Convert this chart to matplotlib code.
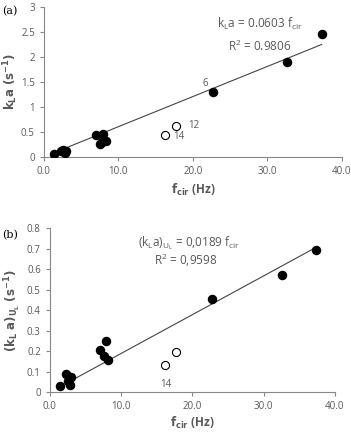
import matplotlib
matplotlib.use("Agg")
import matplotlib.pyplot as plt

# panel (a): kLa vs circulation frequency
fa_x = [1.4, 2.3, 2.6, 2.8, 3.0, 7.0, 7.5, 7.8, 8.0, 8.3, 22.7, 32.6, 37.3]
fa_y = [0.06, 0.12, 0.14, 0.08, 0.12, 0.44, 0.26, 0.29, 0.46, 0.31, 1.30, 1.89, 2.46]
oa_x = [16.2, 17.7]
oa_y = [0.43, 0.61]
slope_a = 0.0603
fit_a = [2.5, 37.3]

# panel (b): (kLa)_UL vs circulation frequency
fb_x = [1.4, 2.2, 2.5, 2.8, 3.0, 7.1, 7.6, 7.9, 8.2, 22.7, 32.6, 37.3]
fb_y = [0.03, 0.09, 0.055, 0.035, 0.075, 0.205, 0.175, 0.25, 0.155, 0.455, 0.57, 0.695]
ob_x = [16.2, 17.7]
ob_y = [0.135, 0.197]
slope_b = 0.0189
fit_b = [3.0, 37.3]

grey = "#595959"
plt.rcParams["font.family"] = "Open Sans"
plt.rcParams["mathtext.fontset"] = "dejavusans"

fig = plt.figure(figsize=(3.51, 4.32), dpi=100)
ax1 = fig.add_axes([0.125, 0.637, 0.849, 0.347])
ax2 = fig.add_axes([0.142, 0.092, 0.812, 0.380])

def style(ax):
    for s in ["top", "right"]:
        ax.spines[s].set_visible(False)
    for s in ["left", "bottom"]:
        ax.spines[s].set_color("#888888")
        ax.spines[s].set_linewidth(0.8)
    ax.tick_params(colors="#888888", labelcolor=grey, labelsize=7, length=3, width=0.8)
    ax.set_xlim(0, 40)
    ax.set_xticks([0, 10, 20, 30, 40])
    ax.set_xticklabels(["0.0", "10.0", "20.0", "30.0", "40.0"])

# (a)
ax1.plot(fit_a, [slope_a * v for v in fit_a], color="#444444", lw=0.8)
ax1.scatter(fa_x, fa_y, s=34, color="black", zorder=3)
ax1.scatter(oa_x, oa_y, s=34, facecolor="white", edgecolor="black", linewidth=0.8, zorder=3)
ax1.set_ylim(0, 3)
ax1.set_yticks([0, 0.5, 1, 1.5, 2, 2.5, 3])
ax1.set_yticklabels(["0", "0.5", "1", "1.5", "2", "2.5", "3"])
style(ax1)
ax1.set_xlabel(r"$\mathbf{f_{cir}}$ (Hz)", fontsize=8.5, fontweight="bold", color=grey, labelpad=4)
ax1.set_ylabel(r"$\mathbf{k_{L}a\ (s^{-1})}$", fontsize=8.5, color=grey, labelpad=1)
ax1.text(29.0, 2.65, r"k$_\mathregular{L}$a = 0.0603 f$_\mathregular{cir}$", fontsize=8.5, color=grey, ha="center", va="center")
ax1.text(29.0, 2.20, r"R$^\mathregular{2}$ = 0.9806", fontsize=8.5, color=grey, ha="center", va="center")
ax1.text(21.7, 1.47, "6", fontsize=7, color=grey, ha="center", va="center")
ax1.text(19.4, 0.63, "12", fontsize=7, color=grey, ha="left", va="center")
ax1.text(17.4, 0.40, "14", fontsize=7, color=grey, ha="left", va="center")
fig.text(0.005, 0.975, "(a)", fontsize=8, family="DejaVu Serif", va="center")

# (b)
ax2.plot(fit_b, [slope_b * v for v in fit_b], color="#444444", lw=0.8)
ax2.scatter(fb_x, fb_y, s=34, color="black", zorder=3)
ax2.scatter(ob_x, ob_y, s=34, facecolor="white", edgecolor="black", linewidth=0.8, zorder=3)
ax2.set_ylim(0, 0.8)
ax2.set_yticks([0, 0.1, 0.2, 0.3, 0.4, 0.5, 0.6, 0.7, 0.8])
ax2.set_yticklabels(["0", "0.1", "0.2", "0.3", "0.4", "0.5", "0.6", "0.7", "0.8"])
style(ax2)
ax2.set_xlabel(r"$\mathbf{f_{cir}}$ (Hz)", fontsize=8.5, fontweight="bold", color=grey, labelpad=2)
ax2.set_ylabel(r"$\mathbf{(k_{L}\ a)_{U_L}\ (s^{-1})}$", fontsize=8.5, color=grey, labelpad=3)
ax2.text(19.5, 0.725, r"(k$_\mathregular{L}$a)$_\mathregular{U_L}$ = 0,0189 f$_\mathregular{cir}$", fontsize=8.5, color=grey, ha="center", va="center")
ax2.text(19.0, 0.645, r"R$^\mathregular{2}$ = 0,9598", fontsize=8.5, color=grey, ha="center", va="center")
ax2.text(16.3, 0.04, "14", fontsize=7, color=grey, ha="center", va="center")
fig.text(0.005, 0.455, "(b)", fontsize=8, family="DejaVu Serif", va="center")

fig.savefig("out.png", dpi=100)
